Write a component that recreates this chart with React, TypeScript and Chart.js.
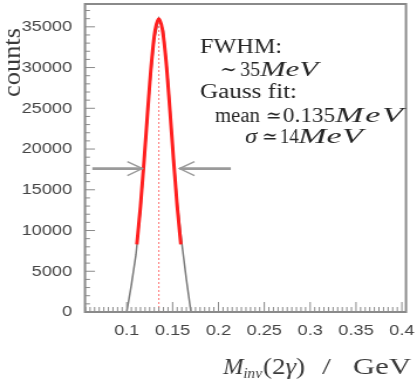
import { useEffect, useRef } from "react";
import { Chart, registerables } from "chart.js";

Chart.register(...registerables);

// Two-photon invariant mass histogram: bin centre (GeV) and counts
const massBins = [0.095, 0.1, 0.105, 0.11, 0.115, 0.12, 0.125, 0.13, 0.135, 0.14, 0.145, 0.15, 0.155, 0.16, 0.165, 0.17, 0.175];
const binCounts = [0, 0, 3300, 7000, 12500, 20000, 27500, 33500, 36000, 34500, 28500, 20500, 13500, 8500, 4000, 0, 0];

// Gaussian fit curve over the fit window
const fitMass = [0.111, 0.115, 0.119, 0.123, 0.127, 0.131, 0.135, 0.139, 0.143, 0.147, 0.151, 0.155, 0.159];
const fitCounts = [8300, 13000, 18700, 24900, 30600, 34600, 36000, 34600, 30600, 24900, 18700, 13000, 8300];

const fitMean = 0.135;
const fitPeak = 36000;

// FWHM markers: [tail, head] in GeV, drawn at half maximum
const fwhmLeftArrow = [0.0625, 0.117];
const fwhmRightArrow = [0.2135, 0.1575];
const fwhmLevel = 17600;

const xRange = [0.0545, 0.4045];
const yRange = [0, 37800];
const xTicks = [0.1, 0.15, 0.2, 0.25, 0.3, 0.35, 0.4];
const yTicks = [0, 5000, 10000, 15000, 20000, 25000, 30000, 35000];
const xMinorStep = 0.005;
const yMinorStep = 1000;

const W = 417;
const H = 384;
const CANVAS_W = 356;
const SX = W / CANVAS_W; // horizontal stretch of the whole canvas
const px = (screenX: number) => screenX / SX;

const SERIF = '"Liberation Serif", "DejaVu Serif", serif';
const SANS = '"Liberation Sans", Arial, sans-serif';

type Run = { t: string; it?: boolean; size?: number; dy?: number };

// Draws a run of text spanning [x0, x1]: horizontal scaling first, the rest as letter spacing
function drawGroup(ctx: CanvasRenderingContext2D, runs: Run[], x0: number, x1: number, base: number, size: number) {
  const fonts = runs.map((r) => `${r.it ? "italic " : ""}${r.size ?? size}px ${SERIF}`);
  let total = 0;
  let chars = 0;
  runs.forEach((r, i) => {
    ctx.font = fonts[i];
    total += ctx.measureText(r.t).width;
    chars += [...r.t].length;
  });
  const italic = runs.every((r) => r.it);
  const left = px(x0);
  const w = px(x1) - px(x0);
  const s = Math.min(Math.max(w / total, 0.8), italic ? 1.45 : 1.12);
  const gap = chars > 1 ? Math.max(0, w / s - total) / (chars - 0.5) : 0;
  ctx.save();
  ctx.translate(left, base);
  ctx.scale(s, 1);
  let cx = 0;
  runs.forEach((r, i) => {
    ctx.font = fonts[i];
    for (const ch of r.t) {
      ctx.fillText(ch, cx, r.dy ?? 0);
      cx += ctx.measureText(ch).width + gap;
    }
  });
  ctx.restore();
}

// Fit summary text: runs, left, right, baseline
const summary: [Run[], number, number, number][] = [
  [[{ t: "FWHM:" }], 200, 282, 53],
  [[{ t: "∼" }], 220, 237, 76],
  [[{ t: "35" }], 240, 260, 76],
  [[{ t: "MeV", it: true }], 260, 318, 76],
  [[{ t: "Gauss fit:" }], 200, 297, 98],
  [[{ t: "mean" }], 215, 260, 122],
  [[{ t: "≃" }], 266, 280, 122],
  [[{ t: "0.135" }], 283, 335, 122],
  [[{ t: "MeV", it: true }], 335, 404, 122],
  [[{ t: "σ", it: true }], 245, 257, 143],
  [[{ t: "≃" }], 262, 277, 143],
  [[{ t: "14" }], 280, 298, 143],
  [[{ t: "MeV", it: true }], 298, 363, 143],
];

const xTitle: [Run[], number, number, number][] = [
  [[{ t: "M", it: true }, { t: "inv", it: true, size: 15, dy: 4 }], 223, 262, 374],
  [[{ t: "(2" }, { t: "γ", it: true }, { t: ")" }], 263, 305, 374],
  [[{ t: "/" }], 322, 332, 374],
  [[{ t: "GeV" }], 353, 411, 374],
];

function drawArrow(ctx: CanvasRenderingContext2D, x0: number, x1: number, y: number) {
  const dir = Math.sign(x1 - x0);
  ctx.lineWidth = 2.6;
  ctx.beginPath();
  ctx.moveTo(x0, y);
  ctx.lineTo(x1, y);
  ctx.stroke();
  ctx.lineWidth = 1.4;
  ctx.beginPath();
  ctx.moveTo(x1 - dir * px(15), y - 7);
  ctx.lineTo(x1, y);
  ctx.lineTo(x1 - dir * px(15), y + 7);
  ctx.stroke();
}

const framePlugin = {
  id: "frameTicks",
  afterDatasetsDraw(chart: any) {
    const { ctx, chartArea: a } = chart;
    const xs = chart.scales.x;
    const ys = chart.scales.y;
    ctx.save();

    // FWHM arrows
    ctx.strokeStyle = "#9a9a9a";
    const yArrow = ys.getPixelForValue(fwhmLevel);
    drawArrow(ctx, xs.getPixelForValue(fwhmLeftArrow[0]), xs.getPixelForValue(fwhmLeftArrow[1]), yArrow);
    drawArrow(ctx, xs.getPixelForValue(fwhmRightArrow[0]), xs.getPixelForValue(fwhmRightArrow[1]), yArrow);

    // inward ticks: long at labelled values, short at minor steps
    ctx.strokeStyle = "#8a8a8a";
    ctx.lineWidth = 1;
    ctx.beginPath();
    for (let k = Math.ceil(xs.min / xMinorStep - 1e-6); k * xMinorStep <= xs.max + 1e-9; k++) {
      const v = k * xMinorStep;
      const major = xTicks.some((t) => Math.abs(t - v) < 1e-6);
      const p = xs.getPixelForValue(v);
      ctx.moveTo(p, a.bottom);
      ctx.lineTo(p, a.bottom - (major ? 10 : 5));
    }
    for (let k = Math.ceil(ys.min / yMinorStep); k * yMinorStep <= ys.max; k++) {
      const v = k * yMinorStep;
      const major = yTicks.includes(v);
      const p = ys.getPixelForValue(v);
      ctx.moveTo(a.left, p);
      ctx.lineTo(a.left + (major ? px(10) : px(5)), p);
    }
    ctx.stroke();

    // frame
    ctx.lineWidth = 2;
    ctx.strokeStyle = "#8a8a8a";
    ctx.strokeRect(a.left, a.top, a.right - a.left, a.bottom - a.top);
    ctx.restore();
  },
  afterDraw(chart: any) {
    const { ctx } = chart;
    ctx.save();
    ctx.fillStyle = "#262626";
    ctx.textBaseline = "alphabetic";
    ctx.textAlign = "left";
    summary.forEach(([runs, x0, x1, b]) => drawGroup(ctx, runs, x0, x1, b, 20));
    ctx.fillStyle = "#3a3a3a";
    xTitle.forEach(([runs, x0, x1, b]) => drawGroup(ctx, runs, x0, x1, b, 24));

    // y axis title
    ctx.font = `20px ${SERIF}`;
    const label = "counts";
    const natural = ctx.measureText(label).width;
    ctx.translate(px(20), 97);
    ctx.rotate(-Math.PI / 2);
    ctx.scale(69 / natural, 1);
    ctx.fillText(label, 0, 0);
    ctx.restore();
  },
};

export default function App() {
  const ref = useRef<HTMLCanvasElement>(null);

  useEffect(() => {
    const canvas = ref.current;
    if (!canvas) return;
    const chart = new Chart(canvas, {
      type: "line",
      data: {
        datasets: [
          {
            label: "Gauss fit",
            data: fitMass.map((x, i) => ({ x, y: fitCounts[i] })),
            borderColor: "#ff1f1f",
            borderWidth: 3,
            pointRadius: 0,
            cubicInterpolationMode: "monotone",
            order: 0,
          },
          {
            label: "mean",
            data: [
              { x: fitMean, y: 0 },
              { x: fitMean, y: fitPeak },
            ],
            borderColor: "#ff7a7a",
            borderWidth: 1,
            borderDash: [2, 2],
            pointRadius: 0,
            order: 1,
          },
          {
            label: "data",
            data: massBins.map((x, i) => ({ x, y: binCounts[i] })),
            borderColor: "#7a7a7a",
            borderWidth: 1.5,
            pointRadius: 0,
            tension: 0,
            order: 2,
          },
        ],
      },
      options: {
        animation: false,
        responsive: false,
        devicePixelRatio: 1,
        events: [],
        layout: { padding: { top: 4, right: px(W - 406), left: 0, bottom: 0 } },
        plugins: { legend: { display: false }, tooltip: { enabled: false }, title: { display: false } },
        scales: {
          x: {
            type: "linear",
            min: xRange[0],
            max: xRange[1],
            grid: { display: false },
            border: { display: false },
            afterBuildTicks: (s: any) => {
              s.ticks = xTicks.map((value) => ({ value }));
            },
            ticks: {
              autoSkip: false,
              maxRotation: 0,
              padding: 1,
              color: "#454545",
              font: { family: SANS, size: 15.5 },
              callback: (v: any) => String(parseFloat(Number(v).toFixed(3))),
            },
            afterFit: (s: any) => {
              s.height = H - 312;
              s.paddingLeft = 0;
              s.paddingRight = 0;
            },
          },
          y: {
            type: "linear",
            min: yRange[0],
            max: yRange[1],
            grid: { display: false },
            border: { display: false },
            afterBuildTicks: (s: any) => {
              s.ticks = yTicks.map((value) => ({ value }));
            },
            ticks: {
              autoSkip: false,
              padding: 3,
              color: "#454545",
              font: { family: SANS, size: 15.5 },
              callback: (v: any) => String(v),
            },
            afterFit: (s: any) => {
              s.width = px(85);
              s.paddingTop = 0;
              s.paddingBottom = 0;
            },
          },
        },
      },
      plugins: [framePlugin],
    } as any);
    return () => chart.destroy();
  }, []);

  return (
    <div style={{ position: "fixed", left: 0, top: 0, width: W, height: H, overflow: "hidden", background: "#fff" }}>
      <canvas
        ref={ref}
        width={CANVAS_W}
        height={H}
        style={{ display: "block", width: CANVAS_W, height: H, transform: `scaleX(${SX})`, transformOrigin: "0 0" }}
      />
    </div>
  );
}
